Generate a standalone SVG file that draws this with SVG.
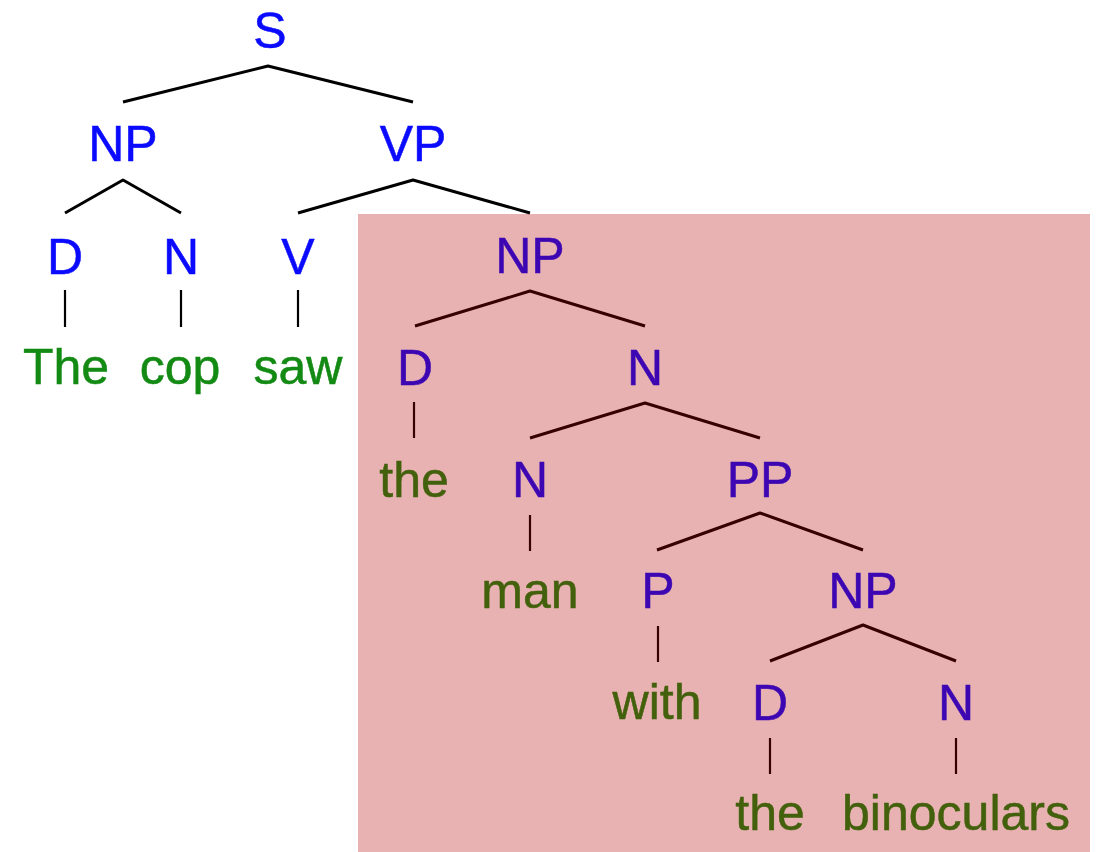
<svg xmlns="http://www.w3.org/2000/svg" width="1102" height="852" viewBox="0 0 1102 852">
  <style>
    text { font-family: "Liberation Sans", Arial, Helvetica, sans-serif; font-size: 50px; text-anchor: middle; stroke-width: 0.5; }
    .cat { fill: #0a0aff; stroke: #0a0aff; }
    .word { fill: #138a13; stroke: #138a13; }
    .edge { stroke: #000; stroke-width: 3; fill: none; stroke-linecap: butt; stroke-linejoin: round; }
    .stem { stroke: #000; stroke-width: 2.2; fill: none; }
    .shade { fill: #b40000; fill-opacity: 0.3; }
  </style>

  <rect width="1102" height="852" fill="#fff"/>

  <!-- branches -->
  <g id="connectors">
    <polyline class="edge" points="123,102 268,66 413,102"/>
    <polyline class="edge" points="65,213 123,180 181,213"/>
    <polyline class="edge" points="298,213 413,180 530,213"/>
    <line class="stem" x1="65" y1="290" x2="65" y2="327"/>
    <line class="stem" x1="181" y1="290" x2="181" y2="327"/>
    <line class="stem" x1="298" y1="290" x2="298" y2="327"/>
    <polyline class="edge" points="415,326 530,291 645,326"/>
    <line class="stem" x1="414" y1="402" x2="414" y2="438"/>
    <polyline class="edge" points="530,438 645,403 760,438"/>
    <line class="stem" x1="530" y1="515" x2="530" y2="551"/>
    <polyline class="edge" points="657,550 760,513 863,550"/>
    <line class="stem" x1="658" y1="626" x2="658" y2="662"/>
    <polyline class="edge" points="770,661 863,625 956,661"/>
    <line class="stem" x1="770" y1="738" x2="770" y2="774"/>
    <line class="stem" x1="956" y1="738" x2="956" y2="774"/>
  </g>

  <!-- constituent labels -->
  <g id="n-S"><text class="cat" x="270" y="48">S</text></g>
  <g id="n-NP1"><text class="cat" x="123" y="161">NP</text></g>
  <g id="n-VP"><text class="cat" x="413" y="161">VP</text></g>
  <g id="n-D1"><text class="cat" x="65" y="274">D</text></g>
  <g id="n-N1"><text class="cat" x="181" y="274">N</text></g>
  <g id="n-V"><text class="cat" x="298" y="274">V</text></g>
  <g id="n-NP2"><text class="cat" x="530" y="273">NP</text></g>
  <g id="n-D2"><text class="cat" x="415" y="385">D</text></g>
  <g id="n-N2"><text class="cat" x="645" y="385">N</text></g>
  <g id="n-N3"><text class="cat" x="530" y="497">N</text></g>
  <g id="n-PP"><text class="cat" x="760" y="497">PP</text></g>
  <g id="n-P"><text class="cat" x="658" y="608">P</text></g>
  <g id="n-NP3"><text class="cat" x="863" y="608">NP</text></g>
  <g id="n-D3"><text class="cat" x="770" y="720">D</text></g>
  <g id="n-N4"><text class="cat" x="956" y="720">N</text></g>

  <!-- words -->
  <g id="w-The"><text class="word" x="66" y="384">The</text></g>
  <g id="w-cop"><text class="word" x="180" y="384">cop</text></g>
  <g id="w-saw"><text class="word" x="298" y="384">saw</text></g>
  <g id="w-the1"><text class="word" x="414" y="497">the</text></g>
  <g id="w-man"><text class="word" x="530" y="608">man</text></g>
  <g id="w-with"><text class="word" x="657" y="719">with</text></g>
  <g id="w-the2"><text class="word" x="770" y="830">the</text></g>
  <g id="w-binoculars"><text class="word" x="956" y="830">binoculars</text></g>

  <!-- translucent highlight over the object noun phrase -->
  <rect id="highlight" class="shade" x="358" y="214" width="732" height="638"/>
</svg>
